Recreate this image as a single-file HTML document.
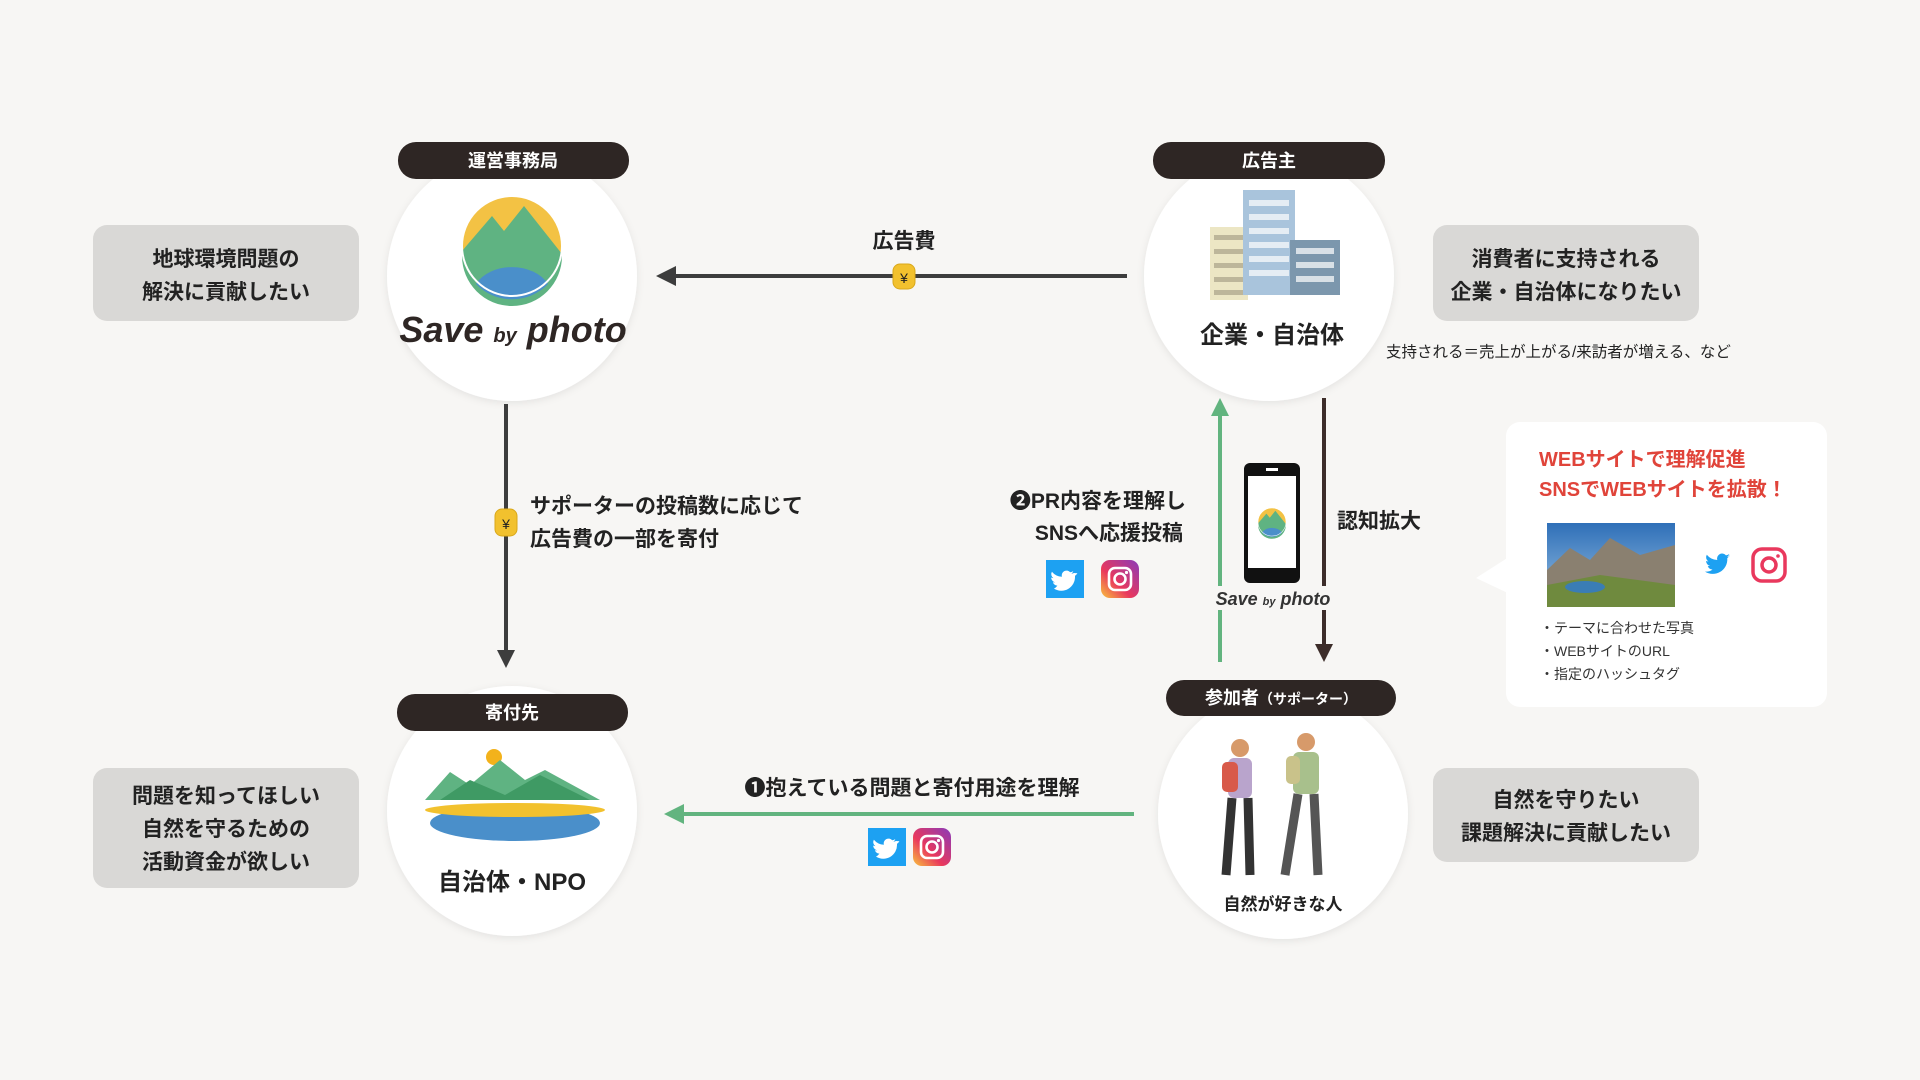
<!DOCTYPE html>
<html><head><meta charset="utf-8"><style>
html,body{margin:0;padding:0;background:#f7f6f4;}
svg{display:block}
text{font-family:"Liberation Sans","Noto Sans CJK JP",sans-serif;}
</style></head><body>
<svg width="1920" height="1080" viewBox="0 0 1920 1080" xmlns="http://www.w3.org/2000/svg">
<defs>
<filter id="sh" x="-20%" y="-20%" width="140%" height="140%"><feDropShadow dx="0" dy="2" stdDeviation="4" flood-color="#000" flood-opacity="0.08"/></filter>
<linearGradient id="ig" x1="0" y1="1" x2="1" y2="0"><stop offset="0" stop-color="#f9c23c"/><stop offset="0.4" stop-color="#e9385d"/><stop offset="1" stop-color="#8a3ab9"/></linearGradient>
<linearGradient id="sky" x1="0" y1="0" x2="0" y2="1"><stop offset="0" stop-color="#2f6fb8"/><stop offset="1" stop-color="#9cc4e4"/></linearGradient>
<g id="tw"><rect width="38" height="38" fill="#1da1f2"/><path d="M29 12c-1 .4-1.8.6-2.8.7 1-.6 1.8-1.5 2.1-2.6-1 .6-2 1-3.1 1.2a4.8 4.8 0 0 0-8.3 4.4 13.700 13.700 0 0 1-10-5 4.800 4.800 0 0 0 1.500 6.400c-.8 0-1.500-.2-2.200-.6 0 2.300 1.700 4.300 3.900 4.700-.7.200-1.500.2-2.200.1a4.800 4.800 0 0 0 4.500 3.300A9.700 9.700 0 0 1 9 27.600 13.700 13.700 0 0 0 30 15.300v-.6c1-.7 1.800-1.500 2.400-2.500" fill="#fff" transform="translate(-1,1)"/></g>
<g id="ins"><rect width="38" height="38" rx="9" fill="url(#ig)"/><rect x="8" y="8" width="22" height="22" rx="6" fill="none" stroke="#fff" stroke-width="2.6"/><circle cx="19" cy="19" r="5.5" fill="none" stroke="#fff" stroke-width="2.6"/><circle cx="25.5" cy="12.5" r="1.6" fill="#fff"/></g>
<g id="logo"><circle r="50" fill="#f3c244"/><path d="M-50 5 L-20 -30 L-8 -15 L12 -40 L50 8 L50 10 A50 50 0 0 1 -50 10Z" fill="#5fb382"/><path d="M-36 38 A40 30 0 0 1 36 38 A50 50 0 0 1 -36 38Z" fill="#4a8fca"/><circle r="50" fill="none" stroke="#fff" stroke-width="2"/></g>
</defs>

<rect x="93" y="225" width="266" height="96" rx="14" fill="#d9d8d6"/>
<text x="226" y="266" font-size="21" font-weight="bold" text-anchor="middle" fill="#222">地球環境問題の</text>
<text x="226" y="299" font-size="21" font-weight="bold" text-anchor="middle" fill="#222">解決に貢献したい</text>
<rect x="93" y="768" width="266" height="120" rx="14" fill="#d9d8d6"/>
<text x="226" y="803" font-size="21" font-weight="bold" text-anchor="middle" fill="#222">問題を知ってほしい</text>
<text x="226" y="836" font-size="21" font-weight="bold" text-anchor="middle" fill="#222">自然を守るための</text>
<text x="226" y="869" font-size="21" font-weight="bold" text-anchor="middle" fill="#222">活動資金が欲しい</text>
<rect x="1433" y="225" width="266" height="96" rx="14" fill="#d9d8d6"/>
<text x="1566" y="266" font-size="21" font-weight="bold" text-anchor="middle" fill="#222">消費者に支持される</text>
<text x="1566" y="299" font-size="21" font-weight="bold" text-anchor="middle" fill="#222">企業・自治体になりたい</text>
<rect x="1433" y="768" width="266" height="94" rx="14" fill="#d9d8d6"/>
<text x="1566" y="807" font-size="21" font-weight="bold" text-anchor="middle" fill="#222">自然を守りたい</text>
<text x="1566" y="840" font-size="21" font-weight="bold" text-anchor="middle" fill="#222">課題解決に貢献したい</text>
<text x="1386" y="357" font-size="15.5" fill="#222">支持される＝売上が上がる/来訪者が増える、など</text>

<line x1="1127" y1="276" x2="672" y2="276" stroke="#3d3d3d" stroke-width="4"/>
<path d="M656 276 L676 266 L676 286Z" fill="#3d3d3d"/>
<text x="904" y="248" font-size="21" font-weight="bold" text-anchor="middle" fill="#222">広告費</text>
<rect x="893" y="264" width="22" height="25" rx="7" fill="#f2c12e" stroke="#d9a81a"/><text x="904" y="283" font-size="14" text-anchor="middle" fill="#222">¥</text>

<line x1="506" y1="404" x2="506" y2="650" stroke="#3d3d3d" stroke-width="4"/>
<path d="M506 668 L497 650 L515 650Z" fill="#3d3d3d"/>
<rect x="495" y="509" width="22" height="27" rx="7" fill="#f2c12e" stroke="#d9a81a"/><text x="506" y="529" font-size="14" text-anchor="middle" fill="#222">¥</text>
<text x="530" y="513" font-size="21" font-weight="bold" fill="#222">サポーターの投稿数に応じて</text>
<text x="530" y="546" font-size="21" font-weight="bold" fill="#222">広告費の一部を寄付</text>

<line x1="1220" y1="662" x2="1220" y2="415" stroke="#62b47f" stroke-width="4"/>
<path d="M1220 398 L1211 416 L1229 416Z" fill="#62b47f"/>
<line x1="1324" y1="398" x2="1324" y2="645" stroke="#3d2d2a" stroke-width="4"/>
<path d="M1324 662 L1315 644 L1333 644Z" fill="#3d2d2a"/>
<text x="1337" y="528" font-size="21" font-weight="bold" fill="#222">認知拡大</text>
<text x="1186" y="508" font-size="21" font-weight="bold" text-anchor="end" fill="#222">❷PR内容を理解し</text>
<text x="1183" y="540" font-size="21" font-weight="bold" text-anchor="end" fill="#222">SNSへ応援投稿</text>
<use href="#tw" x="1046" y="560"/><use href="#ins" x="1101" y="560"/>

<rect x="1242" y="462" width="60" height="123" fill="#f7f6f4"/>
<rect x="1244" y="463" width="56" height="120" rx="6" fill="#111"/>
<rect x="1248" y="476" width="48" height="92" fill="#fff"/>
<rect x="1266" y="468" width="12" height="3" fill="#fff"/>
<g transform="translate(1272,522) scale(0.28)"><use href="#logo"/></g>
<rect x="1208" y="586" width="130" height="24" fill="#f7f6f4"/>
<text x="1273" y="605" font-size="18" font-style="italic" font-weight="bold" text-anchor="middle" fill="#333">Save <tspan font-size="11">by</tspan> photo</text>

<line x1="1134" y1="814" x2="682" y2="814" stroke="#62b47f" stroke-width="4"/>
<path d="M664 814 L684 804 L684 824Z" fill="#62b47f"/>
<text x="912" y="795" font-size="21" font-weight="bold" text-anchor="middle" fill="#222">❶抱えている問題と寄付用途を理解</text>
<use href="#tw" x="868" y="828"/><use href="#ins" x="913" y="828"/>

<circle cx="512" cy="276" r="125" fill="#fff" filter="url(#sh)"/>
<circle cx="1269" cy="276" r="125" fill="#fff" filter="url(#sh)"/>
<circle cx="512" cy="811" r="125" fill="#fff" filter="url(#sh)"/>
<circle cx="1283" cy="814" r="125" fill="#fff" filter="url(#sh)"/>

<rect x="398" y="142" width="231" height="37" rx="18" fill="#2e2624"/>
<text x="513" y="167" font-size="18" font-weight="bold" text-anchor="middle" fill="#fff">運営事務局</text>
<rect x="1153" y="142" width="232" height="37" rx="18" fill="#2e2624"/>
<text x="1269" y="167" font-size="18" font-weight="bold" text-anchor="middle" fill="#fff">広告主</text>
<rect x="397" y="694" width="231" height="37" rx="18" fill="#2e2624"/>
<text x="512" y="719" font-size="18" font-weight="bold" text-anchor="middle" fill="#fff">寄付先</text>
<rect x="1166" y="680" width="230" height="36" rx="18" fill="#2e2624"/>
<text x="1281" y="704" font-size="18" font-weight="bold" text-anchor="middle" fill="#fff">参加者<tspan font-size="14">（サポーター）</tspan></text>

<g transform="translate(512,246)"><use href="#logo"/></g>
<text x="513" y="342" font-size="36" font-style="italic" font-weight="bold" text-anchor="middle" fill="#2e2624">Save <tspan font-size="20">by</tspan> photo</text>

<g>
<rect x="1210" y="227" width="38" height="73" fill="#ece6c4"/>
<g fill="#bdb69a"><rect x="1214" y="235" width="30" height="5"/><rect x="1214" y="249" width="30" height="5"/><rect x="1214" y="263" width="30" height="5"/><rect x="1214" y="277" width="30" height="5"/><rect x="1214" y="290" width="30" height="5"/></g>
<rect x="1243" y="190" width="52" height="105" fill="#a9c4dc"/>
<g fill="#fff" opacity="0.7"><rect x="1249" y="200" width="40" height="6"/><rect x="1249" y="214" width="40" height="6"/><rect x="1249" y="228" width="40" height="6"/><rect x="1249" y="242" width="40" height="6"/><rect x="1249" y="256" width="40" height="6"/><rect x="1249" y="270" width="40" height="6"/></g>
<rect x="1290" y="240" width="50" height="55" fill="#7c97ad"/>
<g fill="#fff" opacity="0.7"><rect x="1296" y="248" width="38" height="6"/><rect x="1296" y="262" width="38" height="6"/><rect x="1296" y="276" width="38" height="6"/></g>
</g>
<text x="1272" y="343" font-size="24" font-weight="bold" text-anchor="middle" fill="#222">企業・自治体</text>

<g>
<circle cx="494" cy="757" r="8" fill="#f3b21b"/>
<path d="M425 800 L450 772 L470 785 L500 760 L525 780 L545 770 L600 800Z" fill="#5fb382"/>
<path d="M440 800 L470 780 L505 795 L540 775 L590 800Z" fill="#3f9a64"/>
<ellipse cx="515" cy="823" rx="85" ry="18" fill="#4a8fca"/>
<ellipse cx="515" cy="810" rx="90" ry="7" fill="#f2c12e"/>
</g>
<text x="512" y="890" font-size="24" font-weight="bold" text-anchor="middle" fill="#222">自治体・NPO</text>

<g>
<circle cx="1240" cy="748" r="9" fill="#d79a6a"/><rect x="1228" y="758" width="24" height="40" rx="6" fill="#b9a4cc"/><rect x="1222" y="762" width="16" height="30" rx="5" fill="#d85a4a"/><path d="M1232 798 L1226 875 M1248 798 L1250 875" stroke="#333" stroke-width="9"/>
<circle cx="1306" cy="742" r="9" fill="#d79a6a"/><rect x="1293" y="752" width="26" height="42" rx="6" fill="#a8c08c"/><rect x="1286" y="756" width="14" height="28" rx="5" fill="#c9c28a"/><path d="M1298 794 L1285 875 M1314 794 L1318 875" stroke="#555" stroke-width="9"/>
</g>
<text x="1283" y="910" font-size="17" font-weight="bold" text-anchor="middle" fill="#222">自然が好きな人</text>

<path d="M1476 578 L1512 555 L1512 595Z" fill="#fff"/>
<rect x="1506" y="422" width="321" height="285" rx="14" fill="#fff"/>
<text x="1539" y="466" font-size="20" font-weight="bold" fill="#e0443a">WEBサイトで理解促進</text>
<text x="1539" y="496" font-size="20" font-weight="bold" fill="#e0443a">SNSでWEBサイトを拡散！</text>
<rect x="1547" y="523" width="128" height="84" fill="url(#sky)"/>
<path d="M1547 570 L1570 548 L1590 560 L1610 538 L1640 555 L1675 545 L1675 607 L1547 607Z" fill="#8a8070"/>
<path d="M1547 585 L1600 575 L1675 585 L1675 607 L1547 607Z" fill="#6f8a3e"/>
<ellipse cx="1585" cy="587" rx="20" ry="6" fill="#3a7db5"/>
<path d="M1730 556c-1 .5-2 .8-3 .9 1-.6 1.9-1.6 2.3-2.8-1 .6-2.2 1-3.3 1.3a5 5 0 0 0-8.7 4.6 14.500 14.500 0 0 1-10.500-5.300 5 5 0 0 0 1.600 6.800c-.8 0-1.600-.3-2.300-.6 0 2.400 1.700 4.500 4 5-.7.2-1.500.2-2.300.1a5 5 0 0 0 4.700 3.500 10.200 10.200 0 0 1-7.500 2.100 14.500 14.500 0 0 0 22.300-13v-.6c1-.7 1.800-1.600 2.500-2.500" fill="#1da1f2"/>
<rect x="1753" y="549" width="32" height="32" rx="9" fill="none" stroke="#e9385d" stroke-width="3.5"/>
<circle cx="1769" cy="565" r="7" fill="none" stroke="#e9385d" stroke-width="3.5"/><circle cx="1778" cy="556" r="1.8" fill="#e9385d"/>
<text x="1540" y="633" font-size="14" fill="#333">・テーマに合わせた写真</text>
<text x="1540" y="656" font-size="14" fill="#333">・WEBサイトのURL</text>
<text x="1540" y="679" font-size="14" fill="#333">・指定のハッシュタグ</text>
</svg>
</body></html>
